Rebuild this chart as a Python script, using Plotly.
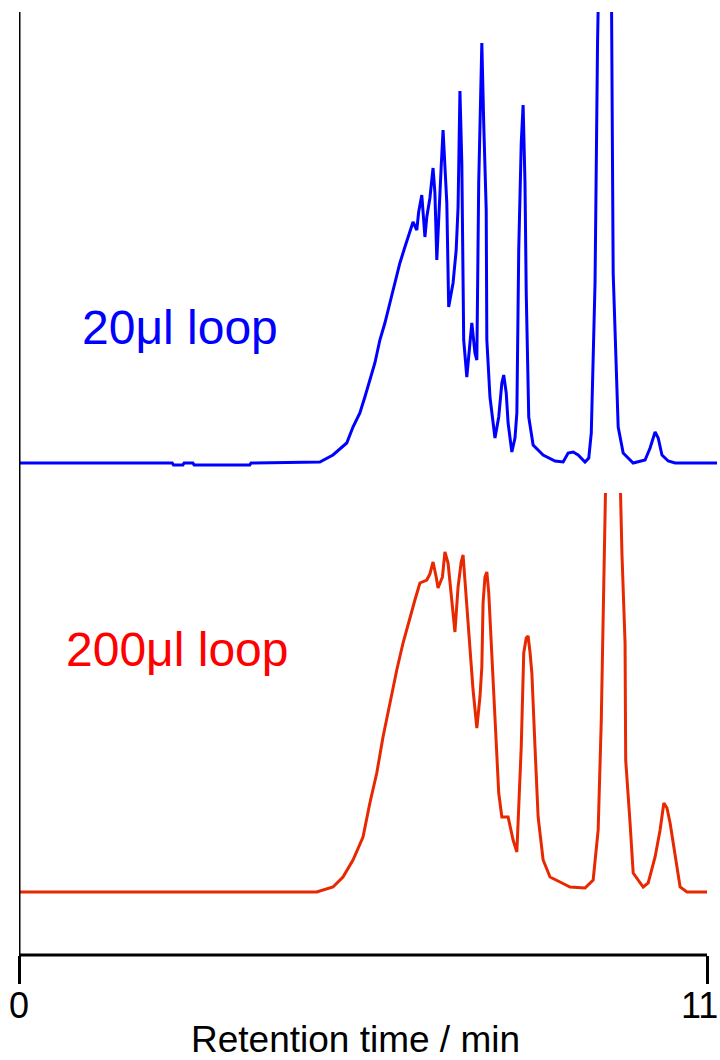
import plotly.graph_objects as go

# 20 µl loop chromatogram (retention time in min, detector signal in a.u.)
t_20 = [0.00, 2.45, 2.47, 2.62, 2.64, 2.78, 2.80, 3.69, 3.71, 4.81, 5.02, 5.24, 5.34, 5.45, 5.53,
        5.61, 5.69, 5.77, 5.85, 5.93, 6.01, 6.09, 6.17, 6.25, 6.30, 6.36, 6.39, 6.44, 6.49,
        6.52, 6.57, 6.62, 6.65, 6.68, 6.71, 6.75, 6.78, 6.81, 6.84, 6.87, 6.90, 6.94, 6.99,
        7.02, 7.05, 7.08, 7.11, 7.16, 7.21, 7.24, 7.29, 7.32, 7.35, 7.40, 7.43, 7.47, 7.48,
        7.53, 7.61, 7.67, 7.72, 7.75, 7.79, 7.82, 7.88, 7.93, 7.96, 7.99, 8.03, 8.06, 8.09,
        8.11, 8.15, 8.22, 8.38, 8.57, 8.70, 8.78, 8.86, 8.94, 9.05, 9.11, 9.15, 9.18, 9.21,
        9.25, 9.29, 9.36, 9.42, 9.47, 9.50, 9.55, 9.58, 9.66, 9.82, 10.01, 10.09, 10.17,
        10.22, 10.28, 10.38, 10.49, 11.16]
s_20 = [0, 0, -2, -2, 0, 0, -2, -2, 0, 1, 8, 20, 36, 50, 66,
        83, 100, 123, 140, 160, 180, 200, 216, 233, 241, 233, 251, 268, 226,
        246, 265, 295, 270, 203, 250, 296, 333, 300, 260, 156, 165, 180, 213,
        256, 372, 300, 123, 86, 120, 140, 110, 103, 280, 420, 340, 253, 123,
        66, 25, 46, 80, 88, 70, 40, 11, 25, 50, 213, 320, 358, 280,
        170, 46, 18, 8, 2, 1, 10, 11, 8, 1, 5, 30, 100, 180,
        420, 650, 800, 700, 500, 190, 80, 36, 10, 0, 3, 15, 31,
        25, 8, 2, 0, 0]

# 200 µl loop chromatogram
t_200 = [0.00, 4.76, 5.02, 5.18, 5.34, 5.50, 5.61, 5.72, 5.82, 5.93, 6.04, 6.14, 6.25, 6.33,
         6.41, 6.52, 6.57, 6.62, 6.67, 6.70, 6.77, 6.81, 6.86, 6.92, 6.97, 7.02, 7.07, 7.10,
         7.16, 7.21, 7.26, 7.32, 7.37, 7.40, 7.42, 7.45, 7.48, 7.51, 7.55, 7.61, 7.67, 7.72,
         7.82, 7.90, 7.96, 8.03, 8.07, 8.11, 8.14, 8.17, 8.20, 8.25, 8.30, 8.38, 8.49, 8.65,
         8.81, 9.05, 9.18, 9.26, 9.31, 9.34, 9.38, 9.48, 9.58, 9.62, 9.64, 9.69, 9.70, 9.77,
         9.82, 9.98, 10.06, 10.17, 10.25, 10.31, 10.36, 10.41, 10.49, 10.57, 10.68, 11.00]
s_200 = [0, 0, 5, 15, 32, 55, 89, 119, 155, 189, 222, 249, 275, 292,
         309, 312, 318, 330, 315, 304, 315, 340, 329, 292, 260, 305, 330, 337,
         289, 245, 202, 164, 195, 225, 289, 315, 320, 300, 252, 175, 99, 75,
         75, 52, 40, 145, 239, 254, 256, 240, 219, 145, 75, 32, 15, 10,
         5, 4, 12, 62, 172, 275, 500, 750, 500, 400, 339, 249, 132, 69,
         19, 5, 9, 35, 62, 89, 84, 69, 35, 5, 0, 0]

x_ticks = [0, 11]
x_tick_labels = ["0", "11"]
label_20 = "20μl loop"
label_200 = "200μl loop"
x_title = "Retention time / min"

BLUE = "#0000FF"
RED_LINE = "#E82800"
RED_TEXT = "#FF0000"
FONT = "Liberation Sans, Arial, sans-serif"

fig = go.Figure()
fig.add_trace(go.Scatter(x=t_200, y=s_200, mode="lines", xaxis="x", yaxis="y",
                         line=dict(color=RED_LINE, width=3), showlegend=False))
fig.add_trace(go.Scatter(x=t_20, y=s_20, mode="lines", xaxis="x", yaxis="y2",
                         line=dict(color=BLUE, width=3), showlegend=False))

H_PLOT = 943.0
tick_annotations = [
    dict(text=x_tick_labels[0], xref="x", yref="paper", x=x_ticks[0], y=0, yshift=-50,
         xanchor="center", yanchor="middle", showarrow=False,
         font=dict(size=36, color="black", family=FONT)),
    dict(text=x_tick_labels[1], xref="paper", yref="paper", x=1, y=0, yshift=-50,
         xanchor="right", yanchor="middle", showarrow=False,
         font=dict(size=36, color="black", family=FONT)),
]

fig.update_layout(
    width=720, height=1060,
    margin=dict(l=19, r=0, t=12, b=105, autoexpand=False),
    paper_bgcolor="white", plot_bgcolor="white",
    font=dict(family=FONT, color="black"),
    xaxis=dict(range=[0, 701 / 62.545], showgrid=False, zeroline=False, showline=False,
               tickvals=x_ticks, ticktext=x_tick_labels, ticks="outside", ticklen=28,
               tickwidth=3, tickcolor="black", showticklabels=False,
               automargin=False, anchor="y"),
    yaxis=dict(domain=[0, (955 - 493) / H_PLOT], range=[-63, 399], showgrid=False,
               zeroline=False, showline=False, showticklabels=False, ticks=""),
    yaxis2=dict(domain=[(955 - 480) / H_PLOT, 1], range=[-17, 451], showgrid=False,
                zeroline=False, showline=False, showticklabels=False, ticks="",
                anchor="x"),
    shapes=[
        dict(type="line", xref="x", yref="paper", x0=0, x1=0, y0=0, y1=1,
             line=dict(color="black", width=3)),
        dict(type="line", xref="x", yref="paper", x0=0, x1=11, y0=0, y1=0,
             line=dict(color="black", width=3)),
    ],
    annotations=[
        dict(text=label_20, xref="paper", yref="paper", x=(180 - 19) / 701,
             y=(955 - 328) / H_PLOT, xanchor="center", yanchor="middle", showarrow=False,
             font=dict(size=48, color=BLUE, family=FONT)),
        dict(text=label_200, xref="paper", yref="paper", x=(177 - 19) / 701,
             y=(955 - 649) / H_PLOT, xanchor="center", yanchor="middle", showarrow=False,
             font=dict(size=48, color=RED_TEXT, family=FONT)),
        dict(text=x_title, xref="paper", yref="paper", x=(355 - 19) / 701,
             y=0, yshift=-84, xanchor="center", yanchor="middle", showarrow=False,
             font=dict(size=37, color="black", family=FONT)),
    ] + tick_annotations,
)

fig.write_html("out.html")
